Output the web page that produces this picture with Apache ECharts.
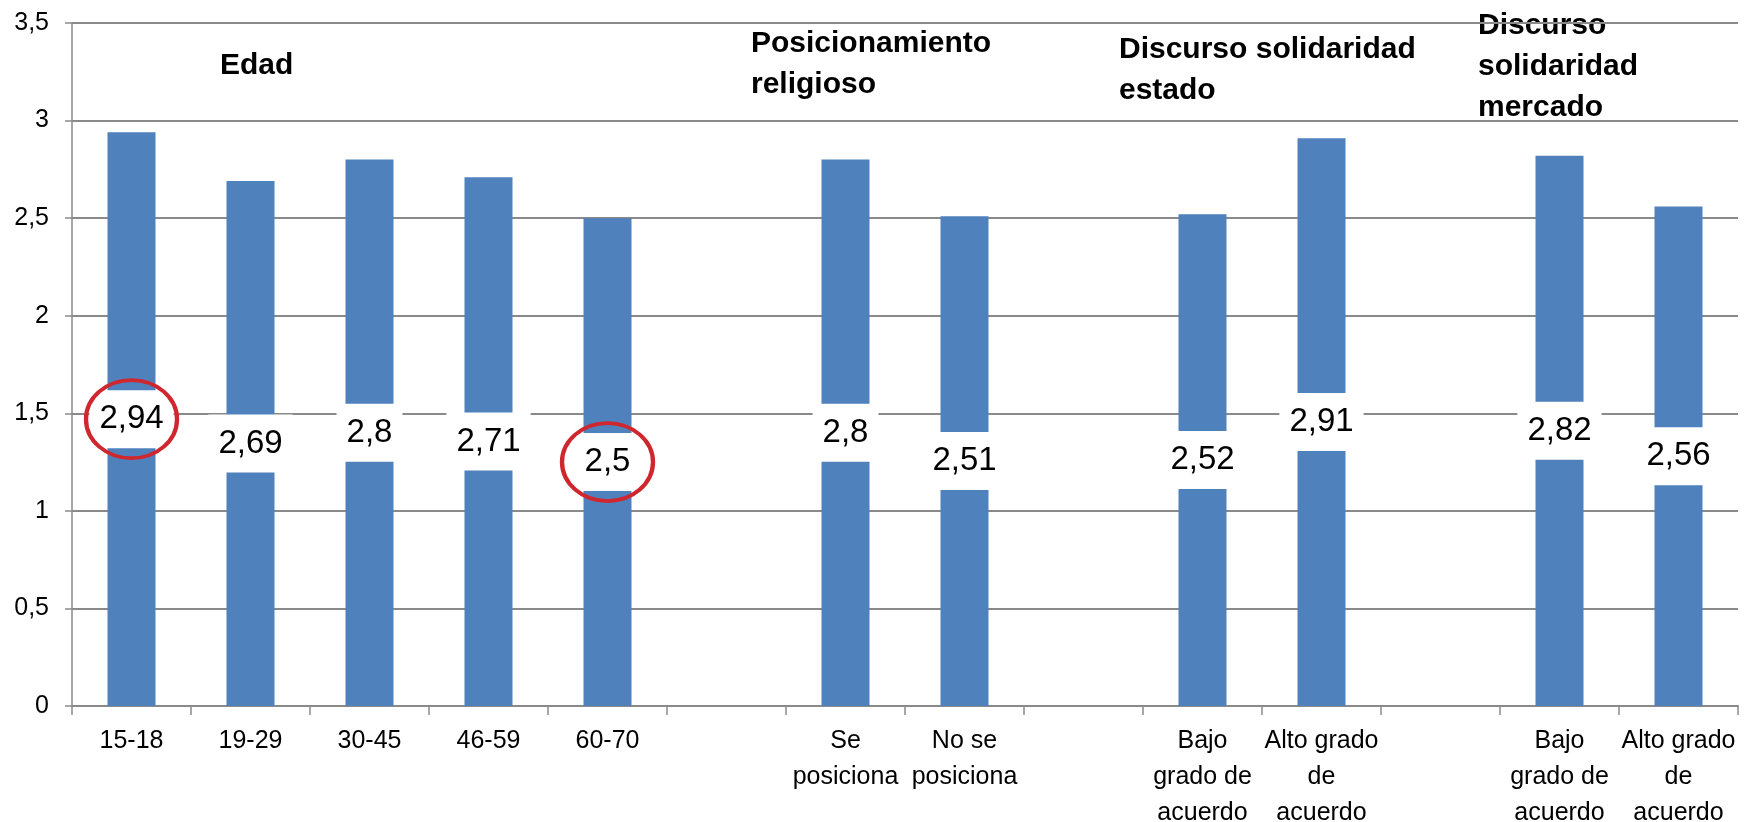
<!DOCTYPE html>
<html>
<head>
<meta charset="utf-8">
<script src="https://cdn.jsdelivr.net/npm/echarts@6/dist/echarts.min.js"></script>
<style>
  html, body { margin: 0; padding: 0; background: #fff; }
  #chart { width: 1758px; height: 822px; }
</style>
</head>
<body>
<div id="chart"></div>
<script>
// 类别（空字符串为分组间的空位）
const categories = [
  '15-18', '19-29', '30-45', '46-59', '60-70', '',
  'Se\nposiciona', 'No se\nposiciona', '',
  'Bajo\ngrado de\nacuerdo', 'Alto grado\nde\nacuerdo', '',
  'Bajo\ngrado de\nacuerdo', 'Alto grado\nde\nacuerdo'
]
const values = [2.94, 2.69, 2.8, 2.71, 2.5, null, 2.8, 2.51, null, 2.52, 2.91, null, 2.82, 2.56]
const yTicks = [0, 0.5, 1, 1.5, 2, 2.5, 3, 3.5]
// 分组标题
const groupTitles = ['Edad', 'Posicionamiento\nreligioso', 'Discurso solidaridad\nestado', 'Discurso\nsolidaridad\nmercado']
// 红圈标出的类别
const circled = ['15-18', '60-70']

const FONT = '"Liberation Sans", Arial, sans-serif'
const GRID_COLOR = '#8a8a8a'

const chart = echarts.init(document.getElementById('chart'))

// 红圈位置：柱子中间，也就是数据标签所在处
const circleData = circled.map(name => {
  const v = values[categories.indexOf(name)]
  return { coord: [categories.indexOf(name), v / 2] }
})

// 标题位置
const titlePos = [
  { left: 220, top: 45 },
  { left: 751, top: 23 },
  { left: 1119, top: 29 },
  { left: 1478, top: 5 }
]

const option = {
  animation: false,
  grid: { left: 72, right: 20, top: 23, bottom: 116, outerBoundsMode: 'none' },
  xAxis: {
    type: 'category',
    data: categories,
    axisLine: { lineStyle: { color: GRID_COLOR, width: 2 } },
    axisTick: { show: true, length: 9, lineStyle: { color: GRID_COLOR, width: 1.5 } },
    axisLabel: {
      interval: 0,
      margin: 17,
      color: '#000',
      fontFamily: FONT,
      fontSize: 25,
      lineHeight: 36
    }
  },
  yAxis: {
    type: 'value',
    min: yTicks[0],
    max: yTicks[yTicks.length - 1],
    interval: 0.5,
    axisLine: { show: true, lineStyle: { color: GRID_COLOR, width: 1.5 } },
    axisTick: { show: true, length: 7, lineStyle: { color: GRID_COLOR, width: 1.5 } },
    splitLine: { lineStyle: { color: GRID_COLOR, width: 2 } },
    axisLabel: {
      margin: 23,
      color: '#000',
      fontFamily: FONT,
      fontSize: 25,
      formatter: v => String(v).replace('.', ',')
    }
  },
  graphic: groupTitles.map((t, i) => ({
    type: 'text',
    left: titlePos[i].left,
    top: titlePos[i].top,
    style: {
      text: t,
      fontFamily: FONT,
      fontWeight: 'bold',
      fontSize: 30,
      lineHeight: 41,
      fill: '#000'
    }
  })),
  series: [
    {
      type: 'bar',
      data: values,
      barWidth: 48,
      itemStyle: { color: '#4f81bd' },
      label: {
        show: true,
        position: 'inside',
        color: '#000',
        fontFamily: FONT,
        fontSize: 33,
        lineHeight: 38,
        backgroundColor: '#fff',
        padding: [10, 10],
        formatter: p => String(p.value).replace('.', ',')
      },
      markPoint: {
        symbol: 'circle',
        symbolSize: [91, 78],
        itemStyle: { color: 'transparent', borderColor: '#d0262d', borderWidth: 4 },
        label: { show: false },
        data: circleData
      }
    }
  ]
}

chart.setOption(option)
</script>
</body>
</html>
